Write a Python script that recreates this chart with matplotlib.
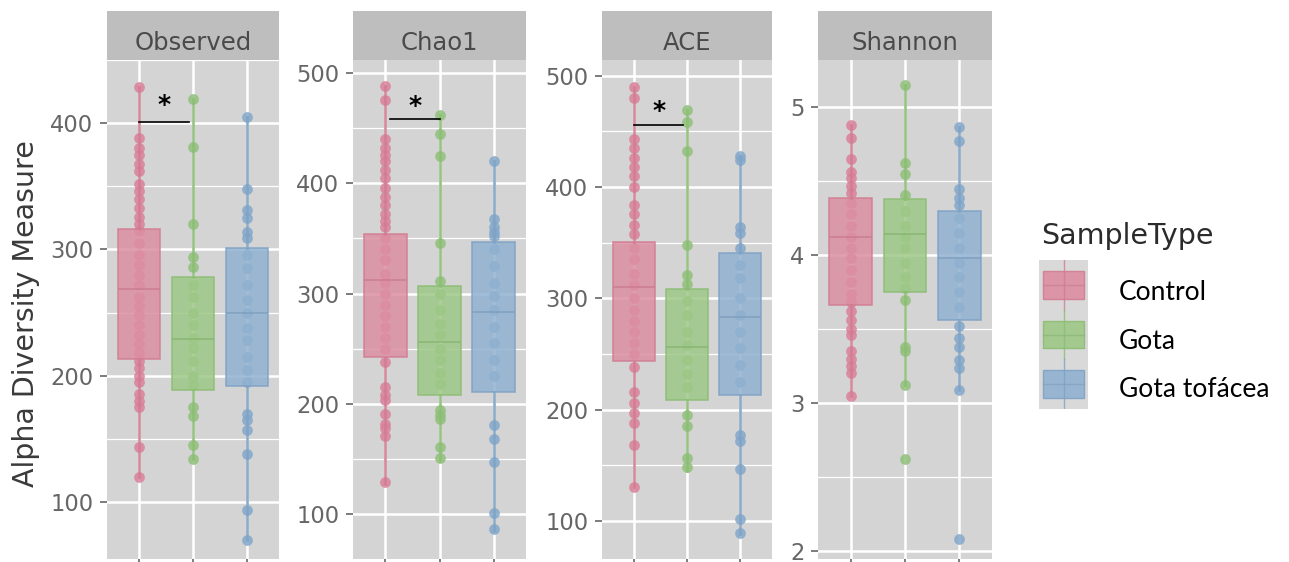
import numpy as np
import matplotlib
matplotlib.use("Agg")
import matplotlib.pyplot as plt
from matplotlib.ticker import MultipleLocator

plt.rcParams['font.family'] = ['DejaVu Sans']

# --- datos ---
grupos = ["Control", "Gota", "Gota tofácea"]
metricas = ["Observed", "Chao1", "ACE", "Shannon"]

# (bigote inf, q1, mediana, q3, bigote sup)
cajas_observed = [(120, 213, 269, 316, 429), (134, 189, 229, 278, 419), (70, 192, 250, 301, 405)]
cajas_chao1 = [(127, 242, 312, 354, 488), (148, 208, 256, 307, 462), (84, 211, 283, 347, 420)]
cajas_ace = [(131, 244, 310, 351, 490), (145, 209, 256, 308, 469), (88, 213, 283, 341, 428)]
cajas_shannon = [(3.05, 3.66, 4.125, 4.39, 4.88), (3.12, 3.75, 4.14, 4.38, 5.15), (3.085, 3.56, 3.98, 4.30, 4.87)]

pts_observed = [
    [429, 388, 380, 375, 368, 362, 352, 346, 340, 333, 326, 320, 315, 305, 296, 288, 280, 272, 262, 255,
     248, 240, 232, 225, 218, 212, 206, 200, 195, 186, 180, 175, 144, 120],
    [419, 381, 320, 294, 286, 272, 262, 250, 240, 230, 222, 212, 200, 193, 175, 168, 145, 134],
    [405, 348, 331, 325, 314, 309, 296, 285, 272, 260, 250, 238, 228, 215, 205, 195, 170, 165, 157, 138, 94, 70],
]
pts_chao1 = [
    [488, 476, 440, 432, 426, 420, 412, 405, 396, 388, 380, 372, 366, 360, 350, 340, 330, 318, 310, 300,
     290, 280, 270, 260, 250, 238, 215, 208, 203, 191, 182, 178, 171, 129],
    [462, 445, 425, 346, 311, 300, 285, 272, 262, 250, 240, 228, 218, 194, 190, 186, 161, 151],
    [420, 368, 360, 356, 352, 340, 325, 310, 298, 285, 270, 255, 240, 225, 181, 168, 147, 101, 86],
]
pts_ace = [
    [490, 480, 443, 435, 426, 418, 410, 400, 384, 376, 366, 358, 345, 335, 322, 312, 300, 290, 280, 270,
     260, 250, 238, 216, 206, 197, 188, 168, 131],
    [469, 458, 432, 348, 321, 313, 298, 285, 270, 258, 245, 232, 220, 195, 185, 157, 149],
    [428, 424, 364, 359, 345, 330, 318, 300, 285, 270, 255, 240, 225, 177, 172, 147, 102, 89],
]
pts_shannon = [
    [4.88, 4.79, 4.65, 4.56, 4.52, 4.47, 4.42, 4.35, 4.28, 4.2, 4.12, 4.05, 3.98, 3.9, 3.82, 3.74, 3.68,
     3.62, 3.56, 3.5, 3.46, 3.35, 3.3, 3.25, 3.2, 3.05],
    [5.15, 4.62, 4.55, 4.41, 4.3, 4.2, 4.12, 4.05, 3.95, 3.85, 3.78, 3.7, 3.38, 3.35, 3.12, 2.62],
    [4.87, 4.77, 4.45, 4.39, 4.34, 4.25, 4.15, 4.05, 3.95, 3.85, 3.75, 3.65, 3.52, 3.44, 3.38, 3.29,
     3.24, 3.085, 2.08],
]

# significancia: (x1, x2, y linea, y asterisco)
signif = [(1.0, 1.93, 401, 414), (1.09, 2.0, 458, 470), (1.0, 1.93, 456, 468), None]

cajas = [cajas_observed, cajas_chao1, cajas_ace, cajas_shannon]
puntos = [pts_observed, pts_chao1, pts_ace, pts_shannon]
limites = [(55, 450), (59, 512), (66, 514), (1.945, 5.32)]
ticks_y = [[100, 200, 300, 400], [100, 200, 300, 400, 500], [100, 200, 300, 400, 500], [2, 3, 4, 5]]
paso_menor = [50, 50, 50, 0.5]

# --- estilo ---
col_relleno = ['#DC8EA1', '#9DC886', '#90B1D0']
col_borde = ['#D27C92', '#8CBD74', '#7FA2C5']
col_punto = ['#D9819A', '#8FC07A', '#83A8CB']
col_mediana = ['#C97A8E', '#86B470', '#7D9DBE']
fondo = '#D4D4D4'
fondo_tira = '#BEBEBE'
gris_txt = '#666666'

W, H = 1289, 562
fig = plt.figure(figsize=(W / 100, H / 100), dpi=100)

paneles_x = [(107, 279), (353, 526), (602, 772), (818, 992)]
top_px, bot_px, tira_top = 60, 559, 11

for i, met in enumerate(metricas):
    x0, x1 = paneles_x[i]
    ax = fig.add_axes([x0 / W, (H - bot_px) / H, (x1 - x0) / W, (bot_px - top_px) / H])
    ax.set_facecolor(fondo)
    for s in ax.spines.values():
        s.set_visible(False)

    posiciones = [1, 2, 3]
    for g in range(3):
        vals = puntos[i][g]
        ax.scatter([posiciones[g]] * len(vals), vals, s=60, color=col_punto[g],
                   alpha=0.85, linewidths=0, zorder=3)

    for g in range(3):
        lo, q1, med, q3, hi = cajas[i][g]
        st = [dict(whislo=lo, q1=q1, med=med, q3=q3, whishi=hi, fliers=[])]
        ax.bxp(st, positions=[posiciones[g]], widths=0.78, patch_artist=True,
               showcaps=False, showfliers=False,
               boxprops=dict(facecolor=col_relleno[g], edgecolor=col_borde[g], linewidth=1.2, alpha=0.84),
               whiskerprops=dict(color=col_borde[g], linewidth=1.9, alpha=0.9),
               medianprops=dict(color=col_mediana[g], linewidth=1.4, alpha=0.7),
               zorder=4)

    if signif[i] is not None:
        a, b, yl, ys = signif[i]
        ax.plot([a, b], [yl, yl], color='black', lw=1.2, zorder=6)
        ax.text((a + b) / 2, ys, '*', ha='center', va='center', fontsize=18,
                fontweight='bold', color='black', zorder=6)

    ax.set_xlim(0.4, 3.6)
    ax.set_ylim(*limites[i])
    ax.set_xticks([1, 2, 3])
    ax.set_xticklabels([])
    ax.set_yticks(ticks_y[i])
    ax.yaxis.set_minor_locator(MultipleLocator(paso_menor[i]))
    ax.grid(True, which='major', color='white', lw=1.8, zorder=0)
    ax.grid(True, which='minor', axis='y', color='white', lw=0.9, zorder=0)
    ax.set_axisbelow(True)
    ax.tick_params(axis='both', which='major', length=4.7, width=1.2, color=gris_txt,
                   labelsize=16.3, labelcolor=gris_txt, pad=5)
    ax.tick_params(axis='y', which='minor', length=0)

    # tira con nombre de la métrica
    tira = fig.add_axes([x0 / W, (H - top_px) / H, (x1 - x0) / W, (top_px - tira_top) / H])
    tira.set_facecolor(fondo_tira)
    tira.set_xticks([])
    tira.set_yticks([])
    for s in tira.spines.values():
        s.set_visible(False)
    tira.text(0.5, (top_px - 50) / (top_px - tira_top), met, ha='center', va='baseline',
              fontsize=17.5, color='#4A4A4A', transform=tira.transAxes)

fig.text(26 / W, 1 - 314 / H, 'Alpha Diversity Measure', rotation=90, ha='center', va='center',
         fontsize=20.5, color='#3A3A3A')

# --- leyenda ---
fig.text(1041 / W, 1 - 244 / H, 'SampleType', ha='left', va='baseline', fontsize=20.5, color='#2B2B2B')
kx0, kx1, ky0, ky1 = 1039, 1088, 260, 409
kax = fig.add_axes([kx0 / W, (H - ky1) / H, (kx1 - kx0) / W, (ky1 - ky0) / H])
kax.set_facecolor('#D9D9D9')
kax.set_xlim(0, 1)
kax.set_ylim(0, 3)
kax.set_xticks([])
kax.set_yticks([])
for s in kax.spines.values():
    s.set_visible(False)
for g in range(3):
    yc = 2.5 - g
    kax.plot([0.5, 0.5], [yc - 0.5, yc + 0.5], color=col_borde[g], lw=1, alpha=0.8)
    kax.add_patch(plt.Rectangle((0.09, yc - 0.28), 0.82, 0.56, facecolor=col_relleno[g],
                                edgecolor=col_borde[g], lw=1, alpha=0.9))
    kax.plot([0.09, 0.91], [yc, yc], color=col_mediana[g], lw=1, alpha=0.6)
    fig.text(1119 / W, 1 - [300, 349, 397][g] / H, grupos[g], ha='left', va='baseline',
             fontsize=19, color='black', family=['Lato', 'DejaVu Sans'])

fig.savefig('out.png', dpi=100, facecolor='white')
